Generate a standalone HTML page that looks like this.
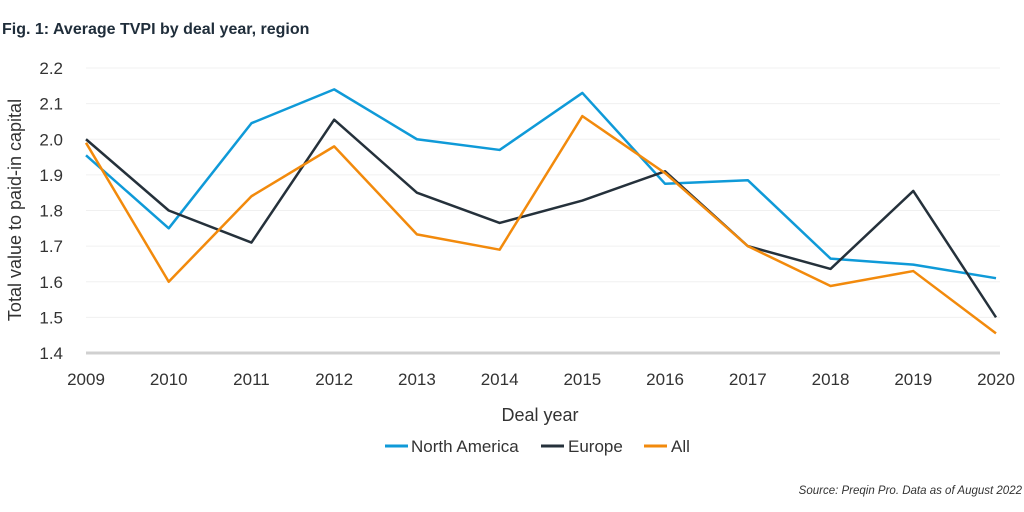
<!DOCTYPE html>
<html><head><meta charset="utf-8"><style>
body{margin:0;background:#fff;width:1024px;height:512px;overflow:hidden;font-family:"Liberation Sans",sans-serif}
</style></head><body>
<svg id="chart" width="1024" height="512" style="position:absolute;left:0;top:0">
<text x="2" y="34" font-size="16" font-weight="bold" fill="#1f2d3a">Fig. 1: Average TVPI by deal year, region</text>
<g id="grid"></g><g id="series"></g>
<text x="540" y="421" font-size="18" fill="#333" text-anchor="middle">Deal year</text>
<text transform="translate(21,210) rotate(-90)" font-size="18" fill="#333" text-anchor="middle">Total value to paid-in capital</text>
<g font-size="17" fill="#333">
<line x1="385" y1="446" x2="408" y2="446" stroke="#0f9ad8" stroke-width="3"/><text x="411" y="452">North America</text>
<line x1="541" y1="446" x2="564" y2="446" stroke="#25313b" stroke-width="3"/><text x="568" y="452">Europe</text>
<line x1="644" y1="446" x2="667" y2="446" stroke="#f28a0c" stroke-width="3"/><text x="671" y="452">All</text>
</g>
<text x="1022" y="494" font-size="11.5" font-style="italic" fill="#333" text-anchor="end">Source: Preqin Pro. Data as of August 2022</text>
</svg>
<script>
const years=[2009,2010,2011,2012,2013,2014,2015,2016,2017,2018,2019,2020];
const yTicks=[1.4,1.5,1.6,1.7,1.8,1.9,2.0,2.1,2.2];
const northAmerica=[1.955,1.75,2.045,2.14,2.0,1.97,2.13,1.875,1.885,1.665,1.648,1.61];
const europe=[2.0,1.8,1.71,2.055,1.85,1.765,1.828,1.91,1.70,1.636,1.855,1.50];
const allRegions=[1.99,1.60,1.84,1.98,1.733,1.69,2.065,1.905,1.70,1.588,1.63,1.455];
const NS='http://www.w3.org/2000/svg';
const xs=i=>86+i*(996-86)/(years.length-1);
const ys=v=>353-(v-1.4)*(285/0.8);
const grid=document.getElementById('grid');
function mk(t,a,p){const e=document.createElementNS(NS,t);for(const k in a)e.setAttribute(k,a[k]);p.appendChild(e);return e;}
yTicks.forEach((v,i)=>{
 const l=mk('line',{x1:86,x2:1000,y1:ys(v),y2:ys(v),stroke:i==0?'#d0d0d0':'#f0f0f0','stroke-width':i==0?3:1},grid);
 
 
 const t=mk('text',{x:63,y:ys(v)+6,'font-size':17,fill:'#333','text-anchor':'end'},grid);
 t.textContent=v.toFixed(1);
 
 
});
years.forEach((y,i)=>{
 const t=mk('text',{x:xs(i),y:385,'font-size':17,fill:'#333','text-anchor':'middle'},grid);
 t.textContent=y;
 
 
});
const g=document.getElementById('series');
[[northAmerica,'#0f9ad8','line-north-america'],[europe,'#25313b','line-europe'],[allRegions,'#f28a0c','line-all']].forEach(([d,c,n])=>{
 const p=mk('polyline',{points:d.map((v,i)=>xs(i)+','+ys(v)).join(' '),fill:'none',stroke:c,'stroke-width':2.5,'stroke-linejoin':'round'},g);
 
 
});
</script>
</body></html>
